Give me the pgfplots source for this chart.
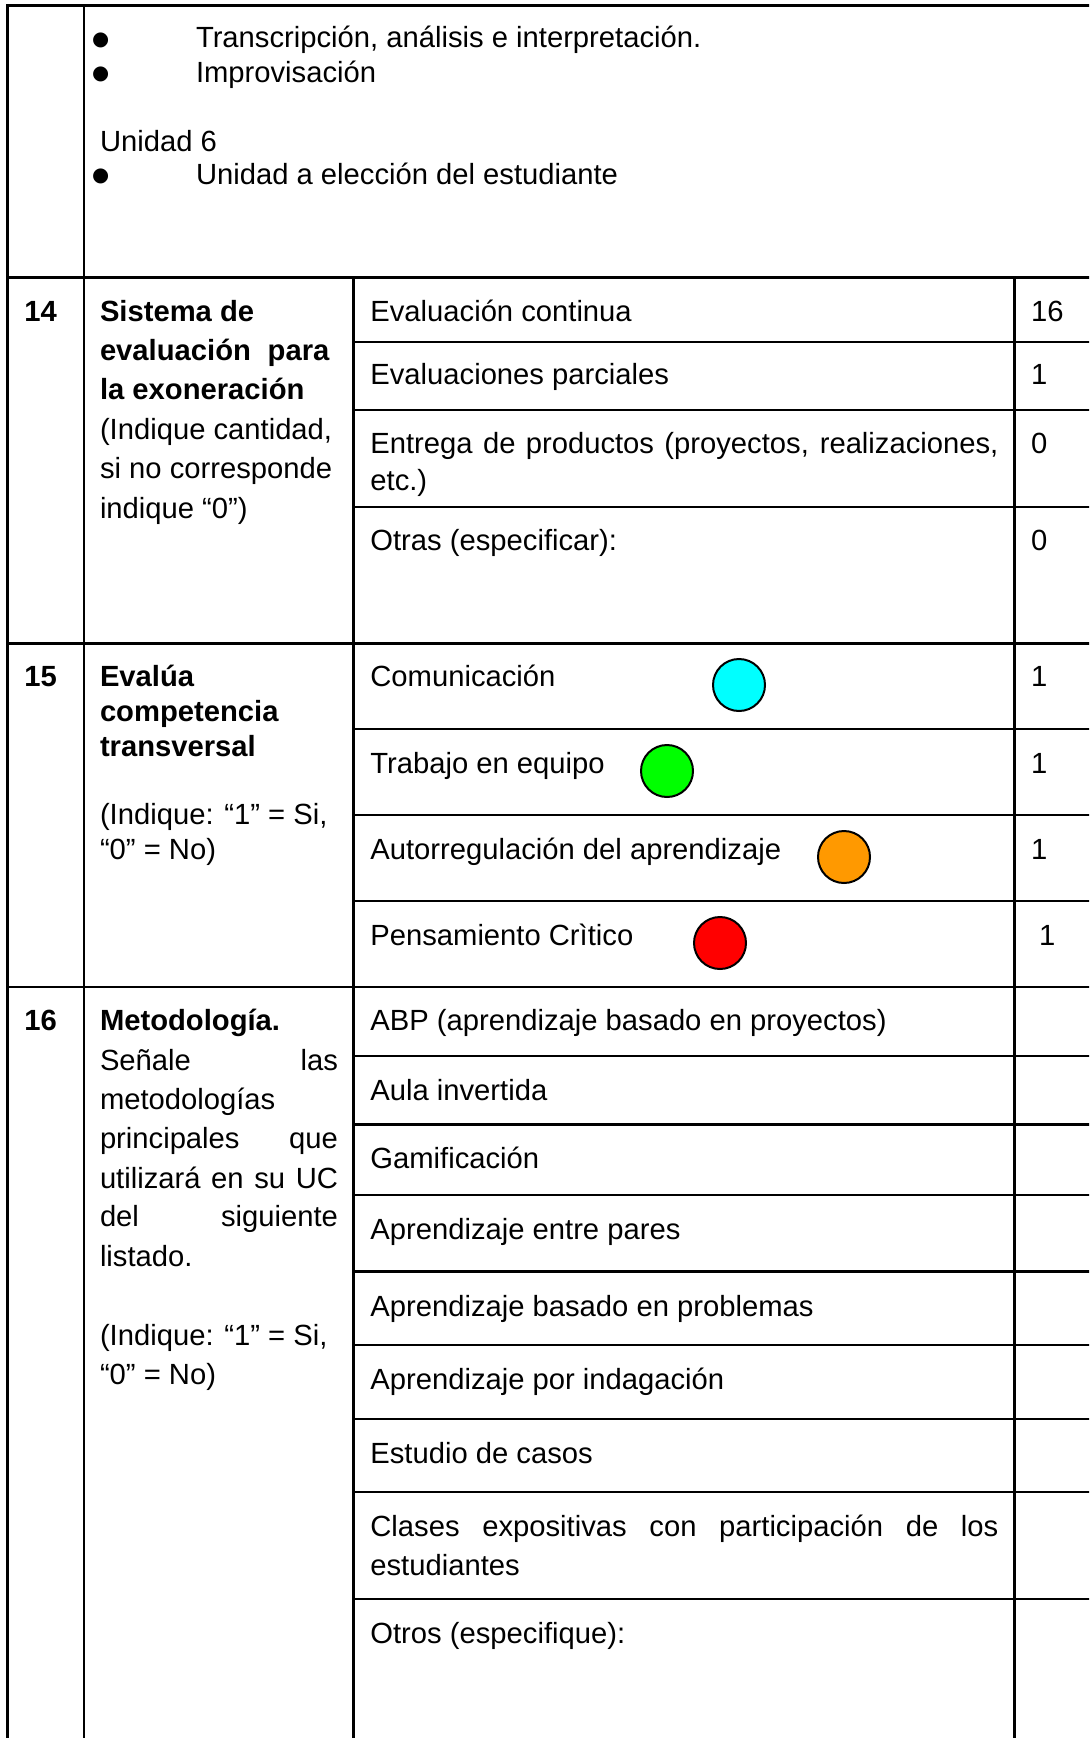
\documentclass[border=0pt]{standalone}
\usepackage{fontspec}
\setmainfont{Liberation Sans}
\newfontfamily\dejavu{DejaVu Sans}
\usepackage{pgfplots}
\pgfplotsset{compat=1.18}
\definecolor{ccyan}{HTML}{00FFFF}
\definecolor{cgreen}{HTML}{00FF00}
\definecolor{corange}{HTML}{FF9900}
\definecolor{cred}{HTML}{FF0000}
\tikzset{tx/.style={anchor=base west,inner sep=0pt,outer sep=0pt,font=\fontsize{14.6}{17.5}\selectfont},
         bl/.style={anchor=base west,inner sep=0pt,outer sep=0pt,font=\dejavu\fontsize{9.8}{10}\selectfont},
         ln/.style={line width=1.2pt,line cap=rect}}
\begin{document}
\begin{tikzpicture}
\begin{axis}[x=0.5pt,y=0.5pt,xmin=0,xmax=1089,ymin=0,ymax=1738,y dir=reverse,
  hide axis,scale only axis,clip=true]
\path (0,0) rectangle (1089,1738);
% ---------- grid lines ----------
\draw[ln] (7.6,5.7) -- (1100,5.7);
\draw[ln] (7.6,5.7) -- (7.6,1760);
\draw[ln] (84,5.7) -- (84,1760);
\draw[ln] (353.5,277.5) -- (353.5,1760);
\draw[ln] (1014.6,277.5) -- (1014.6,1760);
\draw[ln] (7.6,277.5) -- (1100,277.5);
\draw[ln] (7.6,643.5) -- (1100,643.5);
\draw[ln] (7.6,986.7) -- (1100,986.7);
\draw[ln] (353.5,342) -- (1100,342);
\draw[ln] (353.5,410) -- (1100,410);
\draw[ln] (353.5,506.7) -- (1100,506.7);
\draw[ln] (353.5,729) -- (1100,729);
\draw[ln] (353.5,815) -- (1100,815);
\draw[ln] (353.5,901) -- (1100,901);
\draw[ln] (353.5,1056) -- (1100,1056);
\draw[ln] (353.5,1124.5) -- (1100,1124.5);
\draw[ln] (353.5,1195) -- (1100,1195);
\draw[ln] (353.5,1271.5) -- (1100,1271.5);
\draw[ln] (353.5,1345) -- (1100,1345);
\draw[ln] (353.5,1419) -- (1100,1419);
\draw[ln] (353.5,1492) -- (1100,1492);
\draw[ln] (353.5,1599) -- (1100,1599);
% ---------- top cell ----------
\node[bl] at (92,45.3) {●};
\node[tx] at (196,47.7) {Transcripción, análisis e interpretación.};
\node[bl] at (92,79.6) {●};
\node[tx] at (196,83) {Improvisación};
\node[tx] at (100,152) {Unidad 6};
\node[bl] at (92,181.6) {●};
\node[tx] at (196,185) {Unidad a elección del estudiante};
% ---------- row 14 ----------
\node[tx] at (24.4,321.6) {\bfseries 14};
\node[tx] at (100,321.6) {\bfseries Sistema de};
\node[tx] at (100,360.4) {\bfseries\makebox[114.7pt][s]{evaluación para}};
\node[tx] at (100,399.2) {\bfseries la exoneración};
\node[tx] at (100,439) {(Indique cantidad,};
\node[tx] at (100,478) {si no corresponde};
\node[tx] at (100,518) {indique “0”)};
\node[tx] at (370.4,321.6) {Evaluación continua};
\node[tx] at (1031,321.6) {16};
\node[tx] at (370.4,385) {Evaluaciones parciales};
\node[tx] at (1031,385) {1};
\node[tx] at (370.4,453.6) {\makebox[314pt][s]{Entrega de productos (proyectos, realizaciones,}};
\node[tx] at (370.4,490) {etc.)};
\node[tx] at (1031,453.6) {0};
\node[tx] at (370.4,550) {Otras (especificar):};
\node[tx] at (1031,550) {0};
% ---------- row 15 ----------
\node[tx] at (24.4,686.5) {\bfseries 15};
\node[tx] at (100,686.5) {\bfseries Evalúa};
\node[tx] at (100,721) {\bfseries competencia};
\node[tx] at (100,756) {\bfseries transversal};
\node[tx] at (100,824) {(Indique: “1” = Si,};
\node[tx] at (100,859.5) {“0” = No)};
\node[tx] at (370.4,686.5) {Comunicación};
\node[tx] at (1031,686.5) {1};
\node[tx] at (370.4,773) {Trabajo en equipo};
\node[tx] at (1031,773) {1};
\node[tx] at (370.4,859.5) {Autorregulación del aprendizaje};
\node[tx] at (1031,859.5) {1};
\node[tx] at (370.4,945) {Pensamiento Crìtico};
\node[tx] at (1039,945) {1};
\addplot[only marks,mark=*,mark size=13pt,mark options={fill=ccyan,draw=black,line width=1pt}] coordinates {(739,685)};
\addplot[only marks,mark=*,mark size=13pt,mark options={fill=cgreen,draw=black,line width=1pt}] coordinates {(667,771)};
\addplot[only marks,mark=*,mark size=13pt,mark options={fill=corange,draw=black,line width=1pt}] coordinates {(844,857)};
\addplot[only marks,mark=*,mark size=13pt,mark options={fill=cred,draw=black,line width=1pt}] coordinates {(720,943)};
% ---------- row 16 ----------
\node[tx] at (24.4,1030) {\bfseries 16};
\node[tx] at (100,1030) {\bfseries Metodología.};
\node[tx] at (100,1070) {\makebox[119pt][s]{Señale las}};
\node[tx] at (100,1109) {metodologías};
\node[tx] at (100,1148) {\makebox[119pt][s]{principales que}};
\node[tx] at (100,1188) {\makebox[119pt][s]{utilizará en su UC}};
\node[tx] at (100,1226.5) {\makebox[119pt][s]{del siguiente}};
\node[tx] at (100,1266.4) {listado.};
\node[tx] at (100,1345) {(Indique: “1” = Si,};
\node[tx] at (100,1384) {“0” = No)};
\node[tx] at (370.4,1030) {ABP (aprendizaje basado en proyectos)};
\node[tx] at (370.4,1100) {Aula invertida};
\node[tx] at (370.4,1168) {Gamificación};
\node[tx] at (370.4,1239) {Aprendizaje entre pares};
\node[tx] at (370.4,1316) {Aprendizaje basado en problemas};
\node[tx] at (370.4,1389.6) {Aprendizaje por indagación};
\node[tx] at (370.4,1463) {Estudio de casos};
\node[tx] at (370.4,1536) {\makebox[314pt][s]{Clases expositivas con participación de los}};
\node[tx] at (370.4,1575) {estudiantes};
\node[tx] at (370.4,1643) {Otros (especifique):};
\end{axis}
\end{tikzpicture}
\end{document}
